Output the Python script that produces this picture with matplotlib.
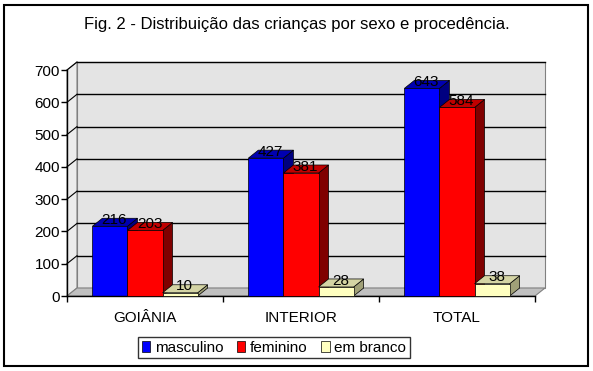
import matplotlib
matplotlib.use("Agg")
import matplotlib.pyplot as plt
from matplotlib.patches import Polygon, Rectangle, Patch

plt.rcParams["font.family"] = ["Liberation Sans", "DejaVu Sans"]

categories = ["GOIÂNIA", "INTERIOR", "TOTAL"]
series_names = ["masculino", "feminino", "em branco"]
masculino = [216, 427, 643]
feminino = [203, 381, 584]
em_branco = [10, 28, 38]
yticks = [0, 100, 200, 300, 400, 500, 600, 700]

# front / top / side colours per series
faces = [
    ("#0000ff", "#0000b0", "#000080"),
    ("#ff0000", "#c00000", "#800000"),
    ("#ffffc0", "#d4d4a4", "#a0a078"),
]

W, H = 593, 371
fig = plt.figure(figsize=(W / 100, H / 100), dpi=100)
fig.patch.set_facecolor("white")

# front plane of the 3D box, in pixels
x_left, x_right, y_base, y_top = 67, 535, 296, 70
ax = fig.add_axes([x_left / W, (H - y_base) / H,
                   (x_right - x_left) / W, (y_base - y_top) / H])
x0, x1 = -0.5, len(categories) - 0.5
y0, y1 = 0, yticks[-1]
ax.patch.set_visible(False)

# depth of the box (pixels) converted to data units
depth_px = (10, 8)
ddx = depth_px[0] * (x1 - x0) / (x_right - x_left)
ddy = depth_px[1] * (y1 - y0) / (y_base - y_top)

def poly(pts, fc, ec="none", lw=0.8, z=1):
    ax.add_patch(Polygon(pts, closed=True, facecolor=fc, edgecolor=ec,
                         linewidth=lw, clip_on=False, zorder=z))

# walls and floor
poly([(x0 + ddx, y0 + ddy), (x1 + ddx, y0 + ddy), (x1 + ddx, y1 + ddy),
      (x0 + ddx, y1 + ddy)], "#e4e4e4", "#808080", z=0.5)
poly([(x0, y0), (x0 + ddx, y0 + ddy), (x0 + ddx, y1 + ddy), (x0, y1)],
     "#ececec", "#808080", z=0.6)
poly([(x0, y0), (x1, y0), (x1 + ddx, y0 + ddy), (x0 + ddx, y0 + ddy)],
     "#c0c0c0", "#808080", z=0.7)

for v in yticks[1:]:
    ax.plot([x0 + ddx, x1 + ddx], [v + ddy, v + ddy], color="black",
            lw=1, clip_on=False, zorder=0.8)
    ax.plot([x0, x0 + ddx], [v, v + ddy], color="black",
            lw=0.8, clip_on=False, zorder=0.8)

# 3D bars
bw = 0.225
all_series = [masculino, feminino, em_branco]
z = 2
for ci in range(len(categories)):
    for si, vals in enumerate(all_series):
        h = vals[ci]
        front, top, side = faces[si]
        bl = ci + (si - 1) * bw - bw / 2
        br = bl + bw
        poly([(br, 0), (br + ddx, ddy), (br + ddx, h + ddy), (br, h)],
             side, "black", 0.5, z)
        poly([(bl, h), (br, h), (br + ddx, h + ddy), (bl + ddx, h + ddy)],
             top, "black", 0.5, z)
        ax.add_patch(Rectangle((bl, 0), bw, h, facecolor=front,
                               edgecolor="black", linewidth=0.5,
                               clip_on=False, zorder=z))
        ax.text(bl + bw / 2 + ddx * 0.45, h + ddy * 0.8, str(h),
                ha="center", va="center", fontsize=11, zorder=z + 0.5)
        z += 1

# axes
for s in ["top", "right"]:
    ax.spines[s].set_visible(False)
ax.spines["left"].set_linewidth(1)
ax.spines["bottom"].set_linewidth(1)
ax.set_yticks(yticks)
ax.set_yticklabels([str(v) for v in yticks], fontsize=11)
ax.tick_params(axis="y", direction="out", length=4, width=1, pad=1)
ax.set_xticks(range(len(categories)))
ax.set_xticklabels(categories, fontsize=11)
ax.set_xticks([x0 + i for i in range(len(categories) + 1)], minor=True)
ax.tick_params(axis="x", which="major", length=0, pad=11)
ax.tick_params(axis="x", which="minor", direction="out", length=4, width=1)
ax.set_xlim(x0, x1)
ax.set_ylim(y0, y1)

fig.text(297 / W, 1 - 24 / H,
         "Fig. 2 - Distribuição das crianças por sexo e procedência.",
         ha="center", va="center", fontsize=12)

handles = [Patch(facecolor=f[0], edgecolor="black", linewidth=0.5)
           for f in faces]
leg = fig.legend(handles, series_names, loc="center",
                 bbox_to_anchor=(274 / W, 1 - 347.5 / H), ncol=3,
                 fontsize=11, frameon=True, fancybox=False,
                 handlelength=0.55, handleheight=0.7, handletextpad=0.3,
                 columnspacing=0.9, borderpad=0.25, borderaxespad=0)
leg.get_frame().set_edgecolor("black")
leg.get_frame().set_linewidth(1)

fig.add_artist(Rectangle((4 / W, 1 - 366 / H), 584 / W, 361 / H,
                         transform=fig.transFigure, fill=False,
                         edgecolor="black", linewidth=1.5))

fig.savefig("out.png", dpi=100)
